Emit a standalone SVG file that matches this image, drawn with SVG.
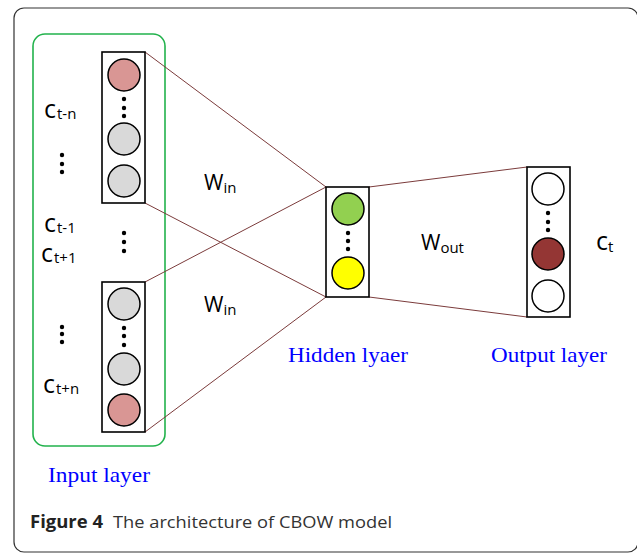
<svg xmlns="http://www.w3.org/2000/svg" width="637" height="554" viewBox="0 0 637 554">
<style>
.col{fill:#fff;stroke:#000;stroke-width:1.6}
.nd{stroke:#000;stroke-width:1.5}
.pink{fill:#d99694}.gray{fill:#d9d9d9}.green{fill:#92d050}.yellow{fill:#ffff00}.brown{fill:#943634}.white{fill:#fff}
.dot{fill:#000}
.lbl{font-family:"Open Sans","Noto Sans",sans-serif;font-size:21px;fill:#000}
.cl{font-size:25px}
.sub{font-size:15px}
.blue{font-family:"Liberation Serif",serif;font-size:21px;fill:#0000ff}
.conn line{stroke:#7b3b3b;stroke-width:1}
</style>
<rect x="14" y="8" width="624" height="544" rx="10" fill="#fff" stroke="#333" stroke-width="1.2"/>
<rect x="33" y="34" width="132" height="412" rx="12" fill="none" stroke="#22b24c" stroke-width="1.6"/>
<g id="connectors" class="conn">
<line x1="145" y1="52" x2="326" y2="187"/>
<line x1="145" y1="203" x2="326" y2="297"/>
<line x1="145" y1="282" x2="326" y2="187"/>
<line x1="145" y1="432" x2="326" y2="297"/>
<line x1="369" y1="187" x2="527" y2="167"/>
<line x1="369" y1="297" x2="527" y2="317"/>
</g>
<g id="input-top">
<rect class="col" x="102" y="52" width="43" height="151"/>
<circle class="nd pink" cx="124" cy="75" r="16"/>
<circle class="dot" cx="124" cy="99" r="2.2"/><circle class="dot" cx="124" cy="108" r="2.2"/><circle class="dot" cx="124" cy="116" r="2.2"/>
<circle class="nd gray" cx="124" cy="139" r="16"/>
<circle class="nd gray" cx="124" cy="181" r="16"/>
</g>
<g id="input-bottom">
<rect class="col" x="102" y="282" width="43" height="150"/>
<circle class="nd gray" cx="124" cy="304" r="16"/>
<circle class="dot" cx="124" cy="328" r="2.2"/><circle class="dot" cx="124" cy="336" r="2.2"/><circle class="dot" cx="124" cy="345" r="2.2"/>
<circle class="nd gray" cx="124" cy="369" r="16"/>
<circle class="nd pink" cx="124" cy="410" r="16"/>
</g>
<g id="input-dots">
<circle class="dot" cx="124" cy="233" r="2.2"/><circle class="dot" cx="124" cy="242" r="2.2"/><circle class="dot" cx="124" cy="251" r="2.2"/>
<circle class="dot" cx="62" cy="155" r="2.2"/><circle class="dot" cx="62" cy="164" r="2.2"/><circle class="dot" cx="62" cy="172" r="2.2"/>
<circle class="dot" cx="62" cy="327" r="2.2"/><circle class="dot" cx="62" cy="334" r="2.2"/><circle class="dot" cx="62" cy="342" r="2.2"/>
</g>
<g id="input-labels">
<text class="lbl cl" x="44" y="118">c<tspan class="sub" dx="1" dy="1">t-n</tspan></text>
<text class="lbl cl" x="44" y="232">c<tspan class="sub" dx="1" dy="1">t-1</tspan></text>
<text class="lbl cl" x="41" y="262">c<tspan class="sub" dx="1" dy="1">t+1</tspan></text>
<text class="lbl cl" x="43" y="393">c<tspan class="sub" dx="1" dy="1">t+n</tspan></text>
<text class="blue" x="48" y="482" textLength="102" lengthAdjust="spacingAndGlyphs">Input layer</text>
</g>
<g id="weights">
<text class="lbl" x="204" y="190">W<tspan class="sub" dy="3">in</tspan></text>
<text class="lbl" x="204" y="312">W<tspan class="sub" dy="3">in</tspan></text>
<text class="lbl" x="421" y="250">W<tspan class="sub" dy="3">out</tspan></text>
</g>
<g id="hidden">
<rect class="col" x="326" y="187" width="43" height="110"/>
<circle class="nd green" cx="348" cy="209" r="16"/>
<circle class="dot" cx="348" cy="233" r="2.2"/><circle class="dot" cx="348" cy="241" r="2.2"/><circle class="dot" cx="348" cy="249" r="2.2"/>
<circle class="nd yellow" cx="348" cy="273" r="16"/>
<text class="blue" x="288" y="362" textLength="120" lengthAdjust="spacingAndGlyphs">Hidden lyaer</text>
</g>
<g id="output">
<rect class="col" x="527" y="167" width="43" height="150"/>
<circle class="nd white" cx="548" cy="189" r="16"/>
<circle class="dot" cx="548" cy="213" r="2.2"/><circle class="dot" cx="548" cy="222" r="2.2"/><circle class="dot" cx="548" cy="230" r="2.2"/>
<circle class="nd brown" cx="548" cy="254" r="16"/>
<circle class="nd white" cx="548" cy="296" r="16"/>
<text class="lbl cl" x="596" y="250">c<tspan class="sub" dy="2">t</tspan></text>
<text class="blue" x="491" y="362" textLength="116" lengthAdjust="spacingAndGlyphs">Output layer</text>
</g>
<g id="caption" font-family="'Open Sans','Noto Sans',sans-serif" font-size="17">
<text x="30" y="528" font-weight="bold" fill="#222" textLength="73" lengthAdjust="spacingAndGlyphs">Figure 4</text>
<text x="113" y="528" fill="#333" textLength="279" lengthAdjust="spacingAndGlyphs">The architecture of CBOW model</text>
</g>
</svg>
